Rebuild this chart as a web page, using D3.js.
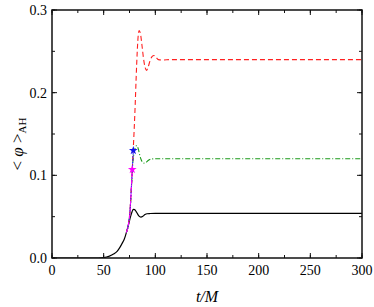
<!DOCTYPE html>
<html>
<head>
<meta charset="utf-8">
<script src="https://cdn.jsdelivr.net/npm/d3@7"></script>
<style>
  body { margin: 0; background: #fff; }
</style>
</head>
<body>
<div id="chart"></div>
<script>
// time samples (t/M) and <phi>_AH for each run
const tBlack = [0, 40, 45, 50, 55, 60, 63, 66, 68, 70, 72, 74, 76, 77.5, 78.7, 80, 82, 84, 86, 88, 90, 92, 95, 100, 110, 300];
const phiBlack = [0, 0, 0, 0.0005, 0.002, 0.005, 0.008, 0.0135, 0.018, 0.023, 0.031, 0.040, 0.050, 0.056, 0.0588, 0.0585, 0.055, 0.051, 0.0495, 0.0505, 0.0525, 0.0535, 0.0538, 0.054, 0.054, 0.054];

const tRed = [72, 74, 75.5, 77, 78.5, 79.5, 80.5, 81.5, 82.5, 83.5, 84.3, 85.5, 87, 88.5, 90, 91.5, 93, 95, 97, 98.7, 100.5, 103, 107, 115, 300];
const phiRed = [0.031, 0.041, 0.058, 0.090, 0.128, 0.155, 0.185, 0.220, 0.250, 0.270, 0.275, 0.272, 0.258, 0.242, 0.231, 0.227, 0.231, 0.239, 0.244, 0.245, 0.243, 0.240, 0.2395, 0.240, 0.240];

const tGreen = [72, 74, 75.5, 77, 77.7, 79, 80.5, 82, 83.5, 85, 87, 89, 91, 93, 96, 100, 110, 300];
const phiGreen = [0.031, 0.041, 0.056, 0.088, 0.107, 0.124, 0.133, 0.136, 0.132, 0.124, 0.117, 0.1148, 0.1155, 0.118, 0.1198, 0.120, 0.120, 0.120];

const tBlue = [72, 74, 75.5, 77, 78, 78.7];
const phiBlue = [0.031, 0.041, 0.057, 0.090, 0.114, 0.130];

const tMagenta = [72, 74, 75.5, 76.8, 77.7];
const phiMagenta = [0.031, 0.041, 0.056, 0.085, 0.107];

const xTicks = [0, 50, 100, 150, 200, 250, 300];
const yTicks = [0, 0.1, 0.2, 0.3];

const W = 374, H = 307;
const margin = { top: 10, right: 12, bottom: 49, left: 52 };
const width = W - margin.left - margin.right;
const height = H - margin.top - margin.bottom;
const serif = "'Liberation Serif', 'Times New Roman', Times, serif";

const svg = d3.select("#chart").append("svg")
  .attr("width", W).attr("height", H)
  .attr("font-family", serif);
const g = svg.append("g")
  .attr("transform", `translate(${margin.left},${margin.top})`);

const x = d3.scaleLinear().domain([0, 300]).range([0, width]);
const y = d3.scaleLinear().domain([0, 0.3]).range([height, 0]);

g.append("clipPath").attr("id", "clip")
  .append("rect").attr("width", width).attr("height", height);

const line = d3.line()
  .x(d => x(d[0]))
  .y(d => y(d[1]))
  .curve(d3.curveMonotoneX);

const series = [
  { t: tBlack, v: phiBlack, color: "#000", dash: null, w: 1.2 },
  { t: tGreen, v: phiGreen, color: "#1a9a1a", dash: "5,2,1,2", w: 1.1 },
  { t: tRed, v: phiRed, color: "#ff2020", dash: "5,3", w: 1.1 },
  { t: tBlue, v: phiBlue, color: "#2020ff", dash: "2,1", w: 1.1 },
  { t: tMagenta, v: phiMagenta, color: "#ff00ff", dash: "4,1,1,1", w: 1.1 }
];

const plot = g.append("g").attr("clip-path", "url(#clip)");
series.forEach(s => {
  plot.append("path")
    .datum(d3.zip(s.t, s.v))
    .attr("fill", "none")
    .attr("stroke", s.color)
    .attr("stroke-width", s.w)
    .attr("stroke-dasharray", s.dash)
    .attr("d", line);
});

// end-of-run markers
const star = d3.symbol().type(d3.symbolStar).size(24);
[[tBlue, phiBlue, "#1010ee"], [tMagenta, phiMagenta, "#ff00ff"]].forEach(([t, v, c]) => {
  g.append("path")
    .attr("d", star)
    .attr("fill", c)
    .attr("transform", `translate(${x(t[t.length - 1])},${y(v[v.length - 1])})`);
});

// axes with inward ticks on all four sides
const xMinor = d3.range(0, 301, 25);
const yMinor = d3.range(0, 0.301, 0.05);
const axisColor = "#111";

function ticks(sel, vals, len, side) {
  sel.selectAll(null).data(vals).enter().append("line")
    .attr("stroke", axisColor).attr("stroke-width", 1)
    .each(function(d) {
      const l = d3.select(this);
      if (side === "bottom") l.attr("x1", x(d)).attr("x2", x(d)).attr("y1", height).attr("y2", height - len);
      if (side === "top") l.attr("x1", x(d)).attr("x2", x(d)).attr("y1", 0).attr("y2", len);
      if (side === "left") l.attr("y1", y(d)).attr("y2", y(d)).attr("x1", 0).attr("x2", len);
      if (side === "right") l.attr("y1", y(d)).attr("y2", y(d)).attr("x1", width).attr("x2", width - len);
    });
}
const axG = g.append("g");
["bottom", "top"].forEach(s => { ticks(axG, xMinor, 3, s); ticks(axG, xTicks, 5, s); });
["left", "right"].forEach(s => { ticks(axG, yMinor, 3, s); ticks(axG, yTicks, 5, s); });

axG.append("rect")
  .attr("width", width).attr("height", height)
  .attr("fill", "none").attr("stroke", axisColor).attr("stroke-width", 1.5);

g.append("g").selectAll("text").data(xTicks).enter().append("text")
  .attr("x", d => x(d)).attr("y", height + 17)
  .attr("text-anchor", "middle").attr("font-size", 14)
  .text(d => d);

g.append("g").selectAll("text").data(yTicks).enter().append("text")
  .attr("x", -5).attr("y", d => y(d) + 5)
  .attr("text-anchor", "end").attr("font-size", 14)
  .text(d => d.toFixed(1));

g.append("text")
  .attr("x", width / 2).attr("y", height + 44)
  .attr("text-anchor", "middle").attr("font-size", 16)
  .attr("font-style", "italic")
  .text("t/M");

const yl = svg.append("text")
  .attr("transform", `translate(23,${margin.top + height / 2 + 10}) rotate(-90)`)
  .attr("text-anchor", "middle").attr("font-size", 17);
yl.append("tspan").text("< ");
yl.append("tspan").attr("font-style", "italic").text("φ");
yl.append("tspan").text(" >");
yl.append("tspan").attr("font-size", 11).attr("dy", 3).text("AH");
</script>
</body>
</html>
